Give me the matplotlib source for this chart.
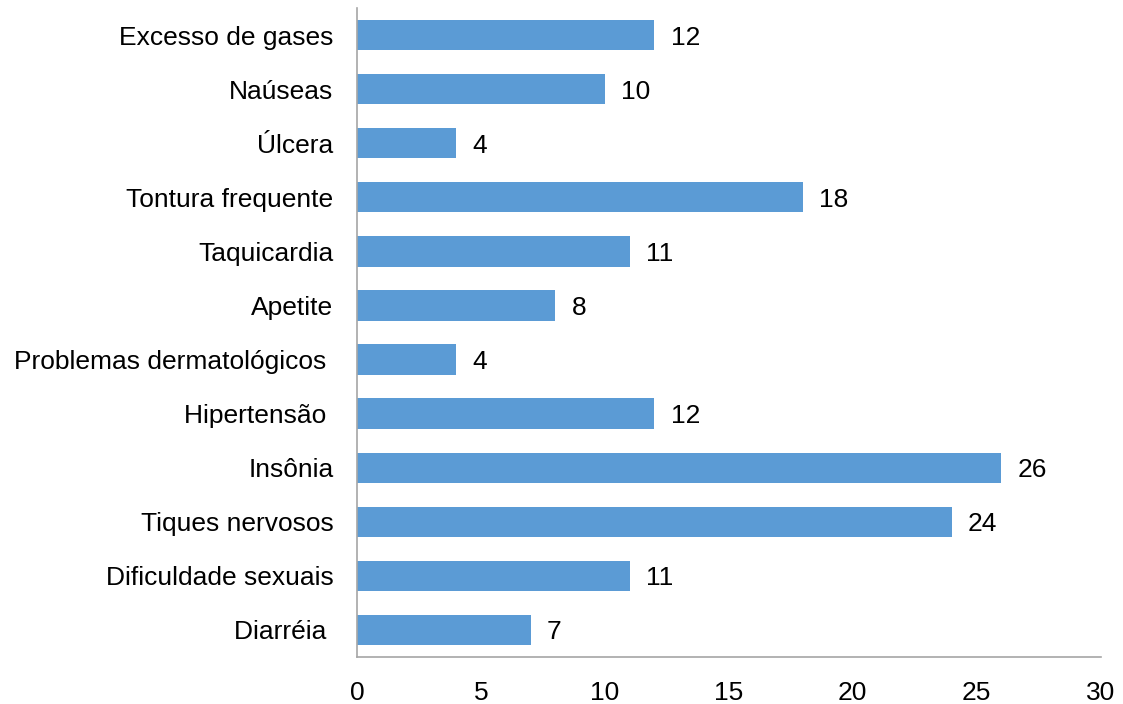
import matplotlib
matplotlib.use("Agg")
import matplotlib.pyplot as plt

categories = ["Excesso de gases", "Naúseas", "Úlcera", "Tontura frequente", "Taquicardia",
              "Apetite", "Problemas dermatológicos ", "Hipertensão ", "Insônia",
              "Tiques nervosos", "Dificuldade sexuais", "Diarréia "]
values = [12, 10, 4, 18, 11, 8, 4, 12, 26, 24, 11, 7]
xticks = [0, 5, 10, 15, 20, 25, 30]

plt.rcParams['font.family'] = ['Liberation Sans', 'DejaVu Sans']
FS = 19

fig = plt.figure(figsize=(11.23, 7.04), dpi=100)
ax = fig.add_axes([0.318, 0.0668, 0.662, 0.9218])

ypos = list(range(len(categories)))
ax.barh(ypos, values, height=0.56, color="#5B9BD5")
for y, v in zip(ypos, values):
    ax.text(v + 0.65, y, str(v), va="center_baseline", ha="left", fontsize=FS, color="black")

ax.set_ylim(len(categories) - 0.5, -0.5)
ax.set_xlim(0, 30)
ax.set_yticks(ypos)
ax.set_yticklabels(categories, fontsize=FS)
ax.set_xticks(xticks)
ax.set_xticklabels([str(t) for t in xticks], fontsize=FS)
ax.tick_params(axis="both", length=0)
ax.tick_params(axis="y", pad=17)
ax.tick_params(axis="x", pad=17)
for s in ["top", "right"]:
    ax.spines[s].set_visible(False)
for s in ["left", "bottom"]:
    ax.spines[s].set_color("#A6A6A6")
    ax.spines[s].set_linewidth(1.2)

fig.savefig("out.png", dpi=100)
